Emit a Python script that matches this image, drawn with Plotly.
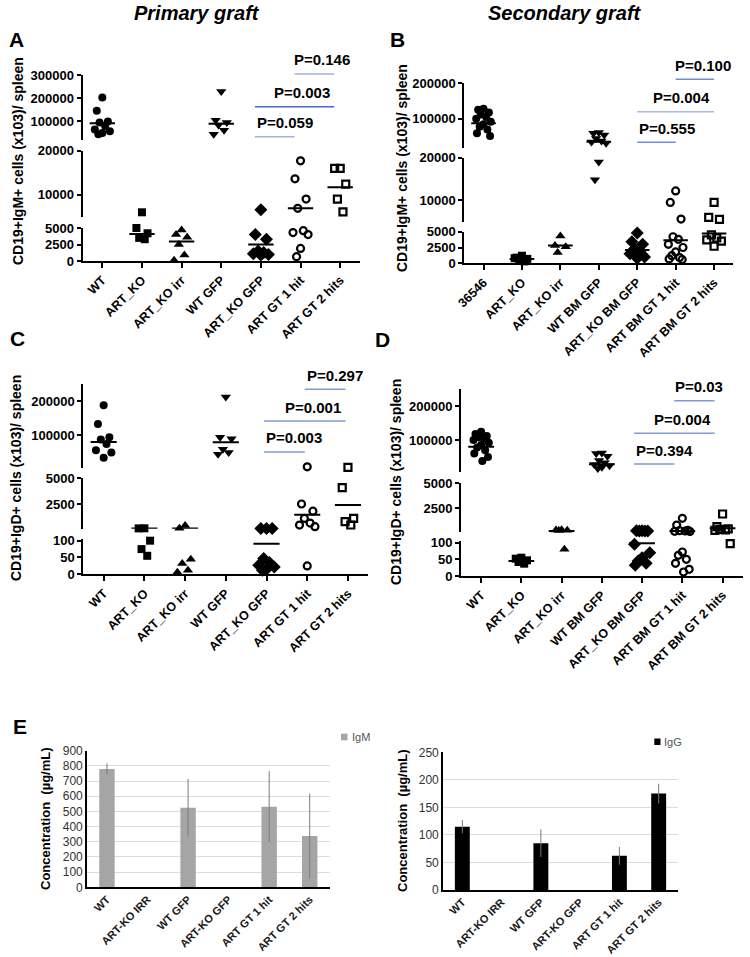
import plotly.graph_objects as go

W, H = 750, 957
FONT = "Liberation Sans, Arial, sans-serif"

# ---------------- data ----------------
groups_A = ["WT", "ART_KO", "ART_KO irr", "WT GFP", "ART_KO GFP", "ART GT 1 hit", "ART GT 2 hits"]
groups_B = ["36546", "ART_KO", "ART_KO irr", "WT BM GFP", "ART_KO BM GFP", "ART BM GT 1 hit", "ART BM GT 2 hits"]
groups_C = ["WT", "ART_KO", "ART_KO irr", "WT GFP", "ART_KO GFP", "ART GT 1 hit", "ART GT 2 hits"]
groups_D = ["WT", "ART_KO", "ART_KO irr", "WT BM GFP", "ART_KO BM GFP", "ART BM GT 1 hit", "ART BM GT 2 hits"]

A_values = [
    [203000, 146000, 100000, 95000, 80000, 65000, 58000, 50000, 45000],
    [6000, 5000, 4200, 3500, 3300],
    [4700, 4000, 3600, 2500, 900, 100],
    [229000, 105000, 95000, 85000, 62000, 45000],
    [6600, 4000, 3300, 1500, 1300, 1100, 1000, 900],
    [17700, 13600, 9000, 6900, 4600, 4300, 4000, 1900, 650],
    [16000, 16000, 12400, 9000, 6100],
]
A_means = [92000, 4100, 2960, 90000, 2500, 6900, 11700]

B_values = [
    [128000, 125000, 118000, 112000, 105000, 100000, 92000, 85000, 78000, 70000, 60000, 52000],
    [1200, 900, 700, 500, 300, 800],
    [4300, 2800, 2600, 1700],
    [62000, 60000, 55000, 45000, 38000, 35000, 32000, 19000, 14800],
    [4800, 3400, 3000, 2300, 1800, 1500, 1000, 800],
    [12200, 9500, 5600, 4200, 3800, 3000, 2500, 1800, 1200, 900, 700, 600],
    [9500, 6000, 5500, 4500, 4000, 3700, 3500, 2700],
]
B_means = [88000, 700, 2800, 36000, 2100, 3650, 4700]

C_values = [
    [188000, 133000, 95000, 88000, 75000, 57000, 50000, 35000],
    [140, 130, 100, 75, 55],
    [420, 150, 45, 32, 12, 6],
    [212000, 95000, 90000, 60000, 50000, 45000],
    [130, 130, 130, 47, 35, 27, 22, 15, 12],
    [8500, 2500, 1800, 1100, 650, 450, 300, 25],
    [6700, 4100, 1100, 780, 460],
]
C_means = [81000, 110, 110, 80000, 91, 1450, 2400]

D_values = [
    [124000, 118000, 112000, 108000, 104000, 100000, 92000, 85000, 78000, 70000, 60000, 50000, 38000],
    [55, 52, 47, 42, 37],
    [350, 320, 300, 280, 80],
    [62000, 60000, 52000, 40000, 33000, 28000, 24000, 20000, 16000],
    [260, 250, 240, 230, 220, 95, 70, 55, 45, 38, 32],
    [1500, 820, 300, 260, 230, 200, 180, 72, 62, 50, 38, 20, 12],
    [1930, 660, 450, 400, 350, 300, 97],
]
D_means = [80000, 45, 230, 28500, 98, 230, 500]

p_pairs = [(4, 5), (4, 6), (5, 6)]
A_p = ["P=0.059", "P=0.003", "P=0.146"]
B_p = ["P=0.555", "P=0.004", "P=0.100"]
C_p = ["P=0.003", "P=0.001", "P=0.297"]
D_p = ["P=0.394", "P=0.004", "P=0.03"]

E_categories = ["WT", "ART-KO IRR", "WT GFP", "ART-KO GFP", "ART GT 1 hit", "ART GT 2 hits"]
IgM = [780, 0, 524, 0, 531, 338]
IgM_err = [36, 0, 190, 0, 235, 280]
IgG = [115, 0, 85, 0, 62, 175]
IgG_err = [12, 0, 25, 0, 16, 18]

# ---------------- layout helpers ----------------
def px(x):
    return x / W

def py(y):
    return 1 - y / H

symbols = ["circle", "square", "triangle-up", "triangle-down", "diamond", "circle-open", "square-open"]
sizes = [8, 8, 9, 9, 10, 7, 7]
jitter = [0, -0.14, 0.14, -0.07, 0.07, -0.19, 0.19, 0.0, -0.1, 0.1, -0.17, 0.17, 0.03]

panels = [
    dict(letter="A", labels=groups_A, vals=A_values, means=A_means, pl=A_p,
         title="CD19+IgM+ cells (x103)/ spleen", x0=82.5, x1=360,
         segs=[(0, 5000, 261, 228, [0, 2500, 5000]),
               (5000, 20000, 216.7, 150.7, [10000, 20000]),
               (20000, 300000, 140, 75, [100000, 200000, 300000])],
         ly=[136.7, 106.7, 74], loff=-0.15, t3=0.46, lab_x=18, lab_y=161,
         lcol=["#9fb3e0", "#4468cc", "#9fb3e0"]),
    dict(letter="B", labels=groups_B, vals=B_values, means=B_means, pl=B_p,
         title="CD19+IgM+ cells (x103)/ spleen", x0=464.3, x1=733.3,
         segs=[(0, 5000, 263.3, 231.7, [0, 2500, 5000]),
               (5000, 20000, 221.6, 157.7, [10000, 20000]),
               (20000, 200000, 147.5, 83, [100000, 200000])],
         ly=[142.3, 111.7, 79.3], loff=0.0, t3=0.48, lab_x=402, lab_y=168,
         lcol=["#6f8fd8", "#a8b8e0", "#6f8fd8"]),
    dict(letter="C", labels=groups_C, vals=C_values, means=C_means, pl=C_p,
         title="CD19+IgD+ cells (x103)/ spleen", x0=83.3, x1=368.3,
         segs=[(0, 105, 574.3, 539, [0, 50, 100]),
               (100, 5000, 528.7, 478.3, [2500, 5000]),
               (5000, 250000, 468, 384, [100000, 200000])],
         ly=[452, 421, 389.3], loff=-0.06, t3=0.47, lab_x=16, lab_y=478,
         lcol=["#7f9ad9", "#7f9ad9", "#7f9ad9"]),
    dict(letter="D", labels=groups_D, vals=D_values, means=D_means, pl=D_p,
         title="CD19+IgD+ cells (x103)/ spleen", x0=461, x1=742.7,
         segs=[(0, 105, 576, 541, [0, 50, 100]),
               (100, 5000, 532.3, 483.3, [2500, 5000]),
               (5000, 250000, 472.3, 389, [100000, 200000])],
         ly=[464, 433.3, 400.7], loff=-0.2, t3=0.27, lab_x=396, lab_y=482,
         lcol=["#7f9ad9", "#7f9ad9", "#7f9ad9"]),
]

def aid(n):
    return "" if n == 1 else str(n)

fig = go.Figure()
layout = dict(
    width=W, height=H, margin=dict(l=0, r=0, t=0, b=0),
    paper_bgcolor="white", plot_bgcolor="white", showlegend=False,
    font=dict(family=FONT, color="black"),
)
annotations = []
shapes = []

def ann(text, x, y, size, weight="bold", style="normal", angle=0, xanchor="center",
        yanchor="middle", color="black", xref="paper", yref="paper"):
    annotations.append(dict(text=text, x=x, y=y, xref=xref, yref=yref, showarrow=False,
                            textangle=angle, xanchor=xanchor, yanchor=yanchor,
                            font=dict(family=FONT, size=size, weight=weight, style=style, color=color)))

xn = 0
yn = 0
for P in panels:
    xn += 1
    xid = aid(xn)
    seg_ids = []
    for _ in P["segs"]:
        yn += 1
        seg_ids.append(aid(yn))
    layout["xaxis" + xid] = dict(
        domain=[px(P["x0"]), px(P["x1"])], range=[-0.5, 6.5], anchor="y" + seg_ids[0],
        tickmode="array", tickvals=list(range(7)), ticktext=P["labels"], tickangle=-45,
        showline=True, linecolor="black", linewidth=2, ticks="outside", ticklen=5,
        tickwidth=2, tickcolor="black", showgrid=False, zeroline=False, automargin=False,
        tickfont=dict(family=FONT, size=12.5, weight="bold", color="black"), fixedrange=True)
    for s, (lo, hi, pb, pt, tv) in enumerate(P["segs"]):
        layout["yaxis" + seg_ids[s]] = dict(
            domain=[py(pb), py(pt)], range=[lo, hi], anchor="x" + xid,
            tickmode="array", tickvals=tv, ticktext=[str(v) for v in tv],
            showline=True, linecolor="black", linewidth=2, ticks="outside", ticklen=4,
            tickwidth=2, tickcolor="black", showgrid=False, zeroline=False, automargin=False,
            tickfont=dict(family=FONT, size=13, weight="bold", color="black"), fixedrange=True)

    def seg_of(v):
        for s, seg in enumerate(P["segs"]):
            if v <= seg[1]:
                return s
        return len(P["segs"]) - 1

    for g, vals in enumerate(P["vals"]):
        per = {}
        for i, v in enumerate(vals):
            s = seg_of(v)
            per.setdefault(s, ([], []))
            per[s][0].append(g + jitter[i % len(jitter)])
            per[s][1].append(v)
        openm = symbols[g].endswith("open")
        for s, (xs, ys) in per.items():
            fig.add_trace(go.Scatter(
                x=xs, y=ys, mode="markers", xaxis="x" + xid, yaxis="y" + seg_ids[s],
                cliponaxis=False, name=P["labels"][g], hoverinfo="y",
                marker=dict(symbol=symbols[g], size=sizes[g], color="black",
                            line=dict(color="black", width=2.2 if openm else 0))))
        m = P["means"][g]
        fig.add_trace(go.Scatter(
            x=[g - 0.32, g + 0.32], y=[m, m], mode="lines", xaxis="x" + xid,
            yaxis="y" + seg_ids[seg_of(m)], cliponaxis=False, hoverinfo="skip",
            line=dict(color="black", width=2)))

    # p-value brackets
    xr = "x" + xid
    for k, ((a, b), txt) in enumerate(zip(p_pairs, P["pl"])):
        yl = P["ly"][k]
        shapes.append(dict(type="line", xref=xr, yref="paper", x0=a + P["loff"], x1=b + P["loff"],
                           y0=py(yl), y1=py(yl), line=dict(color=P["lcol"][k], width=1.5)))
        if k == 0:
            ann(txt, a + P["loff"], py(yl - 14), 15, xanchor="left", xref=xr)
        elif k == 1:
            ann(txt, b + P["loff"] - 0.05, py(yl - 14), 15, xanchor="right", xref=xr)
        else:
            ann(txt, b + P["loff"] + P["t3"], py(yl - 14), 15, xanchor="right", xref=xr)

    ann(P["title"], px(P["lab_x"]), py(P["lab_y"]), 14, angle=-90)

# ---------------- panel E ----------------
e_specs = [
    dict(vals=IgM, err=IgM_err, name="IgM", color="#a5a5a5", ecol="#7a7a7a",
         x0=86.7, x1=330, yb=887.3, yt=750.7, rng=[0, 900], dt=100, lab_x=45, lab_y=819,
         leg=(341, 347.5, 733.7, 740.3, 349.5, 737)),
    dict(vals=IgG, err=IgG_err, name="IgG", color="#000000", ecol="#7a7a7a",
         x0=442.7, x1=678.3, yb=890, yt=752.3, rng=[0, 250], dt=50, lab_x=402, lab_y=821,
         leg=(654.3, 660.5, 738.5, 745, 662, 741.7)),
]
for E in e_specs:
    xn += 1
    yn += 1
    xid, yid = aid(xn), aid(yn)
    layout["xaxis" + xid] = dict(
        domain=[px(E["x0"]), px(E["x1"])], range=[-0.5, 5.5], anchor="y" + yid,
        tickmode="array", tickvals=list(range(6)), ticktext=E_categories, tickangle=-45,
        showline=True, linecolor="black", linewidth=1.5, ticks="", showgrid=False,
        zeroline=False, automargin=False, fixedrange=True,
        tickfont=dict(family=FONT, size=11, weight="bold", color="#1a1a1a"))
    layout["yaxis" + yid] = dict(
        domain=[py(E["yb"]), py(E["yt"])], range=E["rng"], dtick=E["dt"], tick0=0,
        anchor="x" + xid, showline=True, linecolor="black", linewidth=1.5, ticks="",
        showgrid=True, gridcolor="#dcdcdc", gridwidth=1, zeroline=False,
        automargin=False, fixedrange=True,
        tickfont=dict(family=FONT, size=12, color="#333333"))
    fig.add_trace(go.Bar(
        x=list(range(6)), y=E["vals"], name=E["name"], xaxis="x" + xid, yaxis="y" + yid,
        marker=dict(color=E["color"], line=dict(width=0)), width=0.38,
        error_y=dict(type="data", array=E["err"], visible=True, color=E["ecol"],
                     thickness=1, width=0)))
    ann("Concentration  (µg/mL)", px(E["lab_x"]), py(E["lab_y"]), 13, angle=-90)
    lx0, lx1, ly0, ly1, tx, ty = E["leg"]
    shapes.append(dict(type="rect", xref="paper", yref="paper", x0=px(lx0), x1=px(lx1),
                       y0=py(ly1), y1=py(ly0), fillcolor=E["color"], line=dict(width=0)))
    ann(E["name"], px(tx), py(ty), 11, weight="normal", xanchor="left", color="#555555")

# ---------------- headings ----------------
ann("Primary graft", px(197), py(13), 20, style="italic")
ann("Secondary graft", px(565), py(13), 20, style="italic")
for L, x, y in [("A", 16, 40), ("B", 398, 40), ("C", 17, 338), ("D", 382, 340), ("E", 20, 726)]:
    ann(L, px(x), py(y), 21)

layout["annotations"] = annotations
layout["shapes"] = shapes
fig.update_layout(**layout)
fig.write_html("out.html",
               config={"displayModeBar": False, "staticPlot": True},
               post_script="document.body.style.margin='0px';document.body.style.overflow='hidden';")
